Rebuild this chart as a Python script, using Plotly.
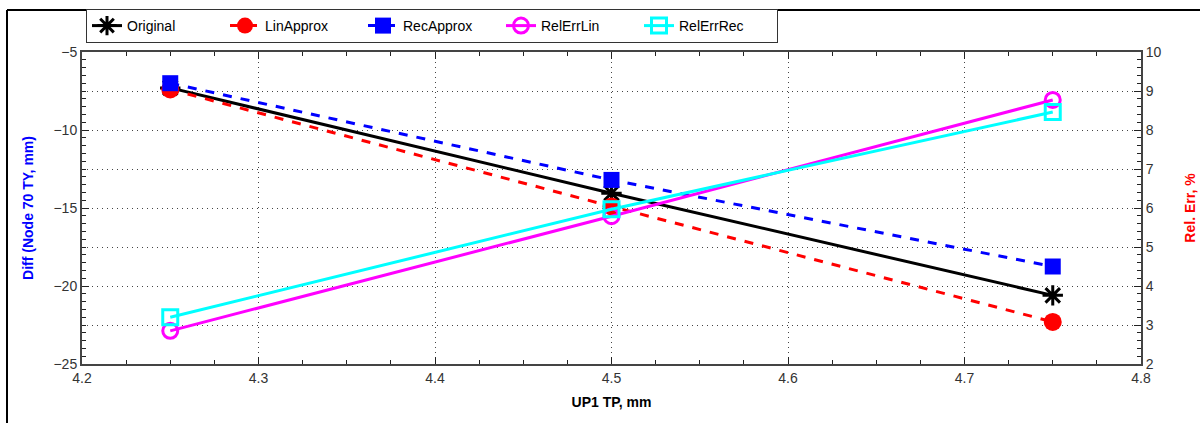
import plotly.graph_objects as go

x_vals = [4.25, 4.5, 4.75]
original = [-7.3, -14.05, -20.6]
lin_approx = [-7.4, -14.9, -22.3]
rec_approx = [-7.0, -13.2, -18.75]
rel_err_lin = [2.85, 5.79, 8.77]
rel_err_rec = [3.2, 5.97, 8.46]

fig = go.Figure()
fig.add_trace(go.Scatter(x=x_vals, y=original, name="Original", mode="lines+markers",
                         line=dict(color="black", width=3),
                         marker=dict(symbol="asterisk-open", size=17, line=dict(color="black", width=3))))
fig.add_trace(go.Scatter(x=x_vals, y=lin_approx, name="LinApprox", mode="lines+markers",
                         line=dict(color="#ff0000", width=3, dash="dash"),
                         marker=dict(symbol="circle", size=18, color="#ff0000")))
fig.add_trace(go.Scatter(x=x_vals, y=rec_approx, name="RecApprox", mode="lines+markers",
                         line=dict(color="#0000ff", width=3, dash="dash"),
                         marker=dict(symbol="square", size=16, color="#0000ff")))
fig.add_trace(go.Scatter(x=x_vals, y=rel_err_lin, name="RelErrLin", mode="lines+markers", yaxis="y2",
                         line=dict(color="#ff00ff", width=3),
                         marker=dict(symbol="circle-open", size=15, line=dict(color="#ff00ff", width=3))))
fig.add_trace(go.Scatter(x=x_vals, y=rel_err_rec, name="RelErrRec", mode="lines+markers", yaxis="y2",
                         line=dict(color="#00ffff", width=3),
                         marker=dict(symbol="square-open", size=15, line=dict(color="#00ffff", width=3))))

FONT = "Arial, Liberation Sans, sans-serif"
tickfont = dict(family=FONT, size=14, color="#333333")
GRID = dict(showgrid=True, gridcolor="#444444", griddash="1px,4px", gridwidth=1)
fig.update_layout(
    width=1200, height=423,
    margin=dict(l=82, r=59, t=52, b=59, autoexpand=False),
    plot_bgcolor="white", paper_bgcolor="white",
    font=dict(family=FONT),
    showlegend=True,
    legend=dict(orientation="h", x=4/1059, xanchor="left", y=1 + 9/312, yanchor="bottom",
                bordercolor="#333333", borderwidth=1, bgcolor="white",
                font=dict(family=FONT, size=14, color="black"), entrywidth=93,
                traceorder="normal", tracegroupgap=0),
    xaxis=dict(range=[4.2, 4.8], dtick=0.1, tick0=4.2, **GRID, zeroline=False, showline=True,
               linecolor="#444444", linewidth=2, mirror="ticks", ticks="inside", ticklen=7,
               tickwidth=1, tickcolor="#222222",
               minor=dict(dtick=0.025, ticks="inside", ticklen=4, tickcolor="#222222", showgrid=False),
               tickfont=tickfont, automargin=False,
               title=dict(text="<b>UP1 TP, mm</b>", font=dict(family=FONT, size=14, color="black"), standoff=12)),
    yaxis=dict(range=[-25, -5], dtick=5, tick0=-25, **GRID, zeroline=False, showline=True,
               linecolor="#444444", linewidth=2, ticks="inside", ticklen=7, tickwidth=1,
               tickcolor="#222222",
               minor=dict(dtick=0.5, ticks="inside", ticklen=4, tickcolor="#222222", showgrid=False),
               tickfont=tickfont, automargin=False,
               title=dict(text="<b>Diff (Node 70 TY, mm)</b>", font=dict(family=FONT, size=14, color="#0000ff"), standoff=17)),
    yaxis2=dict(range=[2, 10], dtick=1, overlaying="y", side="right", **GRID,
                zeroline=False, showline=True, linecolor="#444444", linewidth=2,
                ticks="inside", ticklen=7, tickwidth=1, tickcolor="#222222",
                minor=dict(dtick=0.2, ticks="inside", ticklen=4, tickcolor="#222222", showgrid=False),
                tickfont=tickfont, automargin=False,
                title=dict(text="<b>Rel. Err, %</b>", font=dict(family=FONT, size=14, color="#ff0000"), standoff=25)),
)

# outer frame (top and left edges visible)
fx = -75 / 1059
fy = 1 + 42 / 312
fig.add_shape(type="line", xref="paper", yref="paper", x0=fx, x1=1.2, y0=fy, y1=fy,
              line=dict(color="black", width=2))
fig.add_shape(type="line", xref="paper", yref="paper", x0=fx, x1=fx, y0=-0.3, y1=fy,
              line=dict(color="black", width=2))

fig.write_html("out.html", config={"displayModeBar": False},
               post_script="document.body.style.margin='0';document.body.style.overflow='hidden';")
